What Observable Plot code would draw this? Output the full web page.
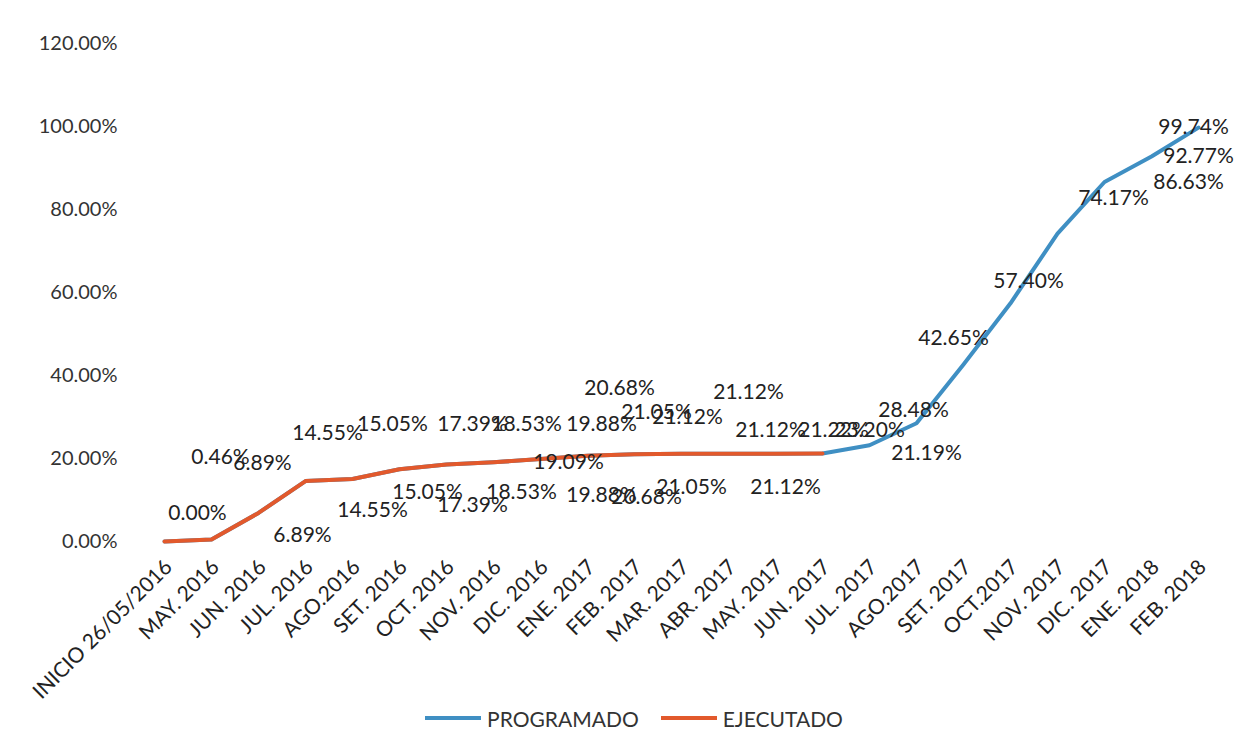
<!DOCTYPE html>
<html>
<head>
<meta charset="utf-8">
<script src="https://cdn.jsdelivr.net/npm/d3@7"></script>
<script src="https://cdn.jsdelivr.net/npm/@observablehq/plot@0.6"></script>
<style>
  html, body { margin: 0; padding: 0; background: #ffffff; }
  #chart { width: 1242px; }
  .legend { display: flex; justify-content: center; align-items: center; font-family: Lato, "Open Sans", sans-serif; font-size: 21px; color: #333; height: 32px; margin-top: 2px; padding-left: 26px; }
  .legend .sw { display: inline-block; width: 56px; height: 4px; margin-right: 6px; }
  .legend .item { display: flex; align-items: center; margin: 0 11px; }
</style>
</head>
<body>
<div id="chart"></div>
<script>
const categories = ["INICIO 26/05/2016", "MAY. 2016", "JUN. 2016", "JUL. 2016", "AGO.2016", "SET. 2016", "OCT. 2016", "NOV. 2016", "DIC. 2016", "ENE. 2017", "FEB. 2017", "MAR. 2017", "ABR. 2017", "MAY. 2017", "JUN. 2017", "JUL. 2017", "AGO.2017", "SET. 2017", "OCT.2017", "NOV. 2017", "DIC. 2017", "ENE. 2018", "FEB. 2018"];
const programado = [0.00, 0.46, 6.89, 14.55, 15.05, 17.39, 18.53, 19.09, 19.88, 20.68, 21.05, 21.12, 21.12, 21.12, 21.22, 23.20, 28.48, 42.65, 57.40, 74.17, 86.63, 92.77, 99.74];
const ejecutado = [0.00, 0.46, 6.89, 14.55, 15.05, 17.39, 18.53, 19.09, 19.88, 20.68, 21.05, 21.12, 21.12, 21.12, 21.19];
const yTicks = [0, 20, 40, 60, 80, 100, 120];
const seriesNames = ["PROGRAMADO", "EJECUTADO"];
const seriesColors = ["#3f8fc3", "#e2592c"];

const progRows = programado.map((v, i) => ({cat: categories[i], i, v}));
const ejecRows = ejecutado.map((v, i) => ({cat: categories[i], i, v}));
const fmt = v => v.toFixed(2) + "%";

const font = "Lato, 'Open Sans', sans-serif";
// data label placed with a pixel nudge (like manually dragged spreadsheet labels)
function lbl(rows, idx, dx, dy, anchor = "middle") {
  return Plot.text(rows.filter(d => d.i === idx), {
    x: "cat", y: "v", text: d => fmt(d.v), dx, dy, textAnchor: anchor,
    fill: "#222", fontSize: 21, fontFamily: font
  });
}

const chart = Plot.plot({
  width: 1242,
  height: 700,
  marginLeft: 162,
  marginRight: 42,
  marginTop: 43,
  marginBottom: 159,
  style: {fontFamily: font, background: "#fff", overflow: "visible"},
  x: {type: "point", domain: categories, padding: 0, label: null},
  y: {domain: [0, 120], label: null},
  marks: [
    Plot.axisY({ticks: yTicks, tickFormat: d => d.toFixed(2) + "%", tickSize: 0, tickPadding: 45, fontSize: 20, fill: "#333", label: null}),
    Plot.axisX({tickRotate: -45, tickSize: 0, tickPadding: 22, dx: 4, fontSize: 21, fill: "#222", label: null}),
    Plot.line(progRows, {x: "cat", y: "v", stroke: seriesColors[0], strokeWidth: 4}),
    Plot.line(ejecRows, {x: "cat", y: "v", stroke: seriesColors[1], strokeWidth: 4}),
    // PROGRAMADO labels
    lbl(progRows, 0, 33, -28),
    lbl(progRows, 1, 9, -82),
    lbl(progRows, 2, 4, -50),
    lbl(progRows, 3, 22, -48),
    lbl(progRows, 4, 40, -55),
    lbl(progRows, 5, 73, -45),
    lbl(progRows, 6, 80, -40),
    lbl(progRows, 8, 61, -35),
    lbl(progRows, 9, 32, -67),
    lbl(progRows, 10, 22, -42),
    lbl(progRows, 11, 6, -37),
    lbl(progRows, 12, 20, -62),
    lbl(progRows, 13, -5, -24),
    lbl(progRows, 14, 11, -23),
    lbl(progRows, 15, 0, -15),
    lbl(progRows, 16, -3, -13),
    lbl(progRows, 17, -10, -26),
    lbl(progRows, 18, 18, -22),
    lbl(progRows, 19, 56, -35),
    lbl(progRows, 20, 84, 0),
    lbl(progRows, 21, 47, 0),
    lbl(progRows, 22, -5, 0),
    // EJECUTADO labels
    lbl(ejecRows, 2, 44, 22),
    lbl(ejecRows, 3, 67, 29),
    lbl(ejecRows, 4, 75, 13),
    lbl(ejecRows, 5, 73, 36),
    lbl(ejecRows, 6, 75, 28),
    lbl(ejecRows, 7, 75, 0),
    lbl(ejecRows, 8, 61, 36),
    lbl(ejecRows, 9, 59, 42),
    lbl(ejecRows, 10, 57, 33),
    lbl(ejecRows, 13, 10, 33),
    lbl(ejecRows, 14, 104, 0)
  ]
});
document.getElementById("chart").appendChild(chart);

const legend = document.createElement("div");
legend.className = "legend";
seriesNames.forEach((n, k) => {
  const it = document.createElement("span");
  it.className = "item";
  it.innerHTML = `<span class="sw" style="background:${seriesColors[k]}"></span>${n}`;
  legend.appendChild(it);
});
document.getElementById("chart").appendChild(legend);
</script>
</body>
</html>
